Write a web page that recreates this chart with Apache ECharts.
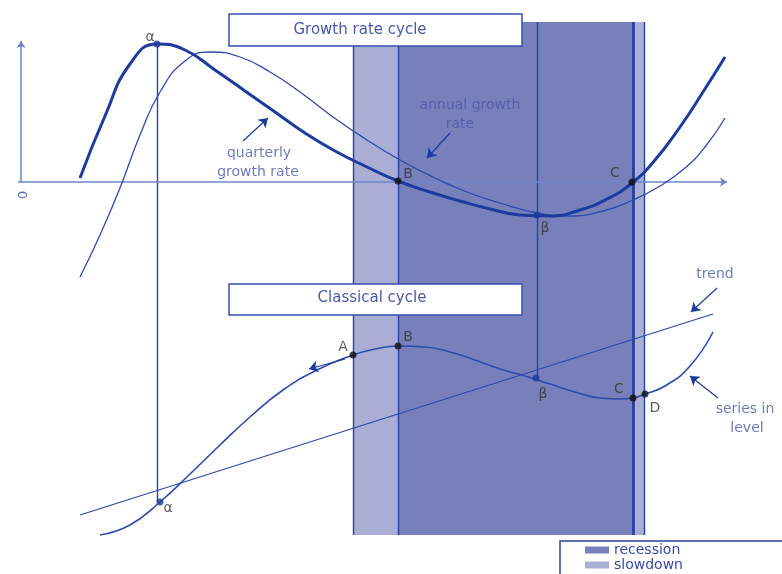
<!DOCTYPE html>
<html lang="en">
<head>
    <meta charset="UTF-8">
    <title>Growth rate cycle / Classical cycle</title>
    <script src="https://cdn.jsdelivr.net/npm/echarts@6/dist/echarts.min.js"></script>
    <style>
        html, body { margin: 0; padding: 0; background: #fff; }
    </style>
</head>
<body>
<div id="cycle" style="width: 782px;height:574px;"></div>
<script type="text/javascript">
    // schematic: x = time, y = height on the sheet (inverted axis)
    var quarterlyGrowth = [[80,178],[105,116],[130,64],[157,44],[185,50],[215,70],[245,91],[275,112],[305,133],
        [335,151],[367,167],[398,181],[430,192],[460,201],[490,209],[520,215],[550,216],[580,210],[607,199],
        [632,183],[655,160],[680,127],[703,92],[725,57]];
    var annualGrowth = [[80,277],[100,235],[120,188],[140,135],[160,92],[185,61],[210,52],[240,57],[270,72],
        [300,92],[333,117],[367,140],[400,160],[433,177],[467,192],[500,203],[537,213],[570,216],[603,211],
        [633,200],[660,186],[685,168],[705,147],[725,118]];
    var levelSeries = [[100,535],[130,525],[160,502],[190,474],[220,445],[250,417],[283,390],[317,370],
        [353,355],[375,349],[398,346],[425,347],[450,352],[475,360],[500,369],[525,376],[550,384],[575,392],
        [600,398],[620,399],[633,398],[645,394],[665,386],[690,366],[713,332]];
    var trendLine = [[80,515],[713,314]];

    // shaded phases [from, to, top, bottom]
    var recessionBands = [[398,633,22,535]];
    var slowdownBands = [[353,398,22,535],[633,644,22,535]];

    var blackPoints = [[398,181],[632,182],[353,355],[398,346],[633,398],[645,394]];
    var bluePoints = [[157,44],[537,215],[536,378],[160,502]];

    var letterLabels = [['α',150,37],['B',408,174],['C',615,173],['β',545,228],
        ['A',343,347],['B',408,337],['β',543,394],['C',619,389],['D',655,408],['α',168,508]];
    var noteLabels = [['quarterly',259,153],['growth rate',258,172],['annual growth',470,105],['rate',460,124],
        ['trend',715,274],['series in',745,409],['level',747,428]];

    var guideLines = [
        [[157,44],[157,502]],
        [[537,22],[537,378]],
        [[353,22],[353,535]],
        [[398,22],[398,535]],
        [[644,22],[644,535]]
    ];
    var arrows = [
        [[243,141],[268,118]],
        [[450,133],[427,158]],
        [[717,288],[691,312]],
        [[718,398],[690,376]],
        [[345,359],[309,369]]
    ];

    var chart = echarts.init(document.getElementById('cycle'));

    var lineColor = '#1d3a9e';
    var thinColor = '#2d4aac';
    var textColor = '#4a5aa6';
    var fontFamily = 'DejaVu Sans';

    function renderBand(params, api) {
        var p0 = api.coord([api.value(0), api.value(2)]);
        var p1 = api.coord([api.value(1), api.value(3)]);
        return {
            type: 'rect',
            shape: {x: p0[0], y: p0[1], width: p1[0] - p0[0], height: p1[1] - p0[1]},
            style: api.style()
        };
    }

    function toSegments(list) {
        return list.map(function (c) { return {coords: c}; });
    }

    function toLabels(list) {
        return list.map(function (l) { return {name: l[0], value: [l[1], l[2]]}; });
    }

    var option = {
        animation: false,
        grid: {left: 0, right: 0, top: 0, bottom: 0},
        xAxis: {type: 'value', min: 0, max: 782, show: false},
        yAxis: {type: 'value', min: 0, max: 574, inverse: true, show: false},
        legend: {
            data: ['recession', 'slowdown'],
            orient: 'vertical',
            left: 585,
            top: 543,
            padding: 0,
            z: 60,
            icon: 'rect',
            itemWidth: 24,
            itemHeight: 7,
            itemGap: 1,
            selectedMode: false,
            textStyle: {fontSize: 14, color: '#3a4aa0', fontFamily: fontFamily, lineHeight: 14}
        },
        graphic: [
            {type: 'rect', z: 50, shape: {x: 229, y: 14, width: 293, height: 32},
                style: {fill: '#fff', stroke: '#3550b0', lineWidth: 1.5}},
            {type: 'text', z: 51, x: 360, y: 30,
                style: {text: 'Growth rate cycle', fill: textColor, font: '15px ' + fontFamily, align: 'center', verticalAlign: 'middle'}},
            {type: 'rect', z: 50, shape: {x: 229, y: 284, width: 293, height: 31},
                style: {fill: '#fff', stroke: '#3550b0', lineWidth: 1.5}},
            {type: 'text', z: 51, x: 372, y: 298,
                style: {text: 'Classical cycle', fill: textColor, font: '15px ' + fontFamily, align: 'center', verticalAlign: 'middle'}},
            {type: 'text', z: 51, x: 21, y: 195, rotation: -Math.PI / 2,
                style: {text: '0', fill: '#5a70c0', font: '13px ' + fontFamily, align: 'center', verticalAlign: 'middle'}},
            {type: 'rect', z: 40, shape: {x: 560, y: 541, width: 240, height: 40},
                style: {fill: '#fff', stroke: '#2a40a0', lineWidth: 1.5}}
        ],
        series: [
            {
                name: 'recession', type: 'custom', renderItem: renderBand,
                encode: {x: [0, 1], y: [2, 3]}, z: 1,
                itemStyle: {color: '#7880bb'}, data: recessionBands
            },
            {
                name: 'slowdown', type: 'custom', renderItem: renderBand,
                encode: {x: [0, 1], y: [2, 3]}, z: 1,
                itemStyle: {color: '#aaaed4'}, data: slowdownBands
            },
            {
                type: 'lines', coordinateSystem: 'cartesian2d', z: 3,
                lineStyle: {color: '#2742a8', width: 1.4, opacity: 1},
                data: toSegments(guideLines)
            },
            {
                type: 'lines', coordinateSystem: 'cartesian2d', z: 3,
                lineStyle: {color: '#1f3a9e', width: 2.6, opacity: 1},
                data: toSegments([[[633,22],[633,535]]])
            },
            {
                type: 'lines', coordinateSystem: 'cartesian2d', z: 3,
                symbol: ['none', 'arrow'], symbolSize: 7,
                lineStyle: {color: '#6f86cc', width: 1.5, opacity: 1},
                data: toSegments([[[18,182],[727,182]], [[21,182],[21,41]]])
            },
            {
                type: 'line', data: annualGrowth, smooth: 0.5, symbol: 'none', z: 4,
                lineStyle: {color: thinColor, width: 1.3}
            },
            {
                type: 'line', data: quarterlyGrowth, smooth: 0.5, symbol: 'none', z: 5,
                lineStyle: {color: lineColor, width: 3}
            },
            {
                type: 'line', data: levelSeries, smooth: 0.5, symbol: 'none', z: 4,
                lineStyle: {color: thinColor, width: 1.6}
            },
            {
                type: 'line', data: trendLine, symbol: 'none', z: 4,
                lineStyle: {color: thinColor, width: 1.3}
            },
            {
                type: 'lines', coordinateSystem: 'cartesian2d', z: 6,
                symbol: ['none', 'arrow'], symbolSize: 9,
                lineStyle: {color: lineColor, width: 1.2, opacity: 1},
                data: toSegments(arrows)
            },
            {
                type: 'scatter', data: blackPoints, symbol: 'circle', symbolSize: 7, z: 7,
                itemStyle: {color: '#111'}
            },
            {
                type: 'scatter', data: bluePoints, symbol: 'circle', symbolSize: 7, z: 7,
                itemStyle: {color: lineColor}
            },
            {
                type: 'scatter', data: toLabels(letterLabels), symbolSize: 0, z: 8,
                label: {show: true, position: 'inside', formatter: '{b}', fontSize: 14, color: '#333', fontFamily: fontFamily}
            },
            {
                type: 'scatter', data: toLabels(noteLabels), symbolSize: 0, z: 8,
                label: {show: true, position: 'inside', formatter: '{b}', fontSize: 14, color: textColor, fontFamily: fontFamily}
            }
        ]
    };

    chart.setOption(option);
</script>
</body>
</html>
